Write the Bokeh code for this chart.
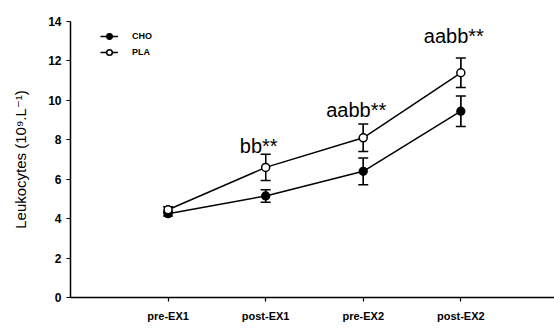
from bokeh.plotting import figure
from bokeh.models import ColumnDataSource, Whisker, FixedTicker, Legend, LegendItem
from bokeh.embed import file_html
from bokeh.resources import INLINE

# Time points of the protocol
categories = ["pre-EX1", "post-EX1", "pre-EX2", "post-EX2"]

# Leukocyte counts (10^9 L^-1), mean and SEM
cho_mean = [4.25, 5.15, 6.4, 9.45]
cho_sem = [0.12, 0.32, 0.68, 0.77]
pla_mean = [4.45, 6.6, 8.1, 11.4]
pla_sem = [0.15, 0.66, 0.7, 0.75]

# Significance annotations above the placebo series
sig_labels = ["bb**", "aabb**", "aabb**"]
sig_at = ["post-EX1", "pre-EX2", "post-EX2"]
sig_y = [7.7, 9.5, 13.25]

FONT = "Liberation Sans"

xpos = [i + 1 for i in range(len(categories))]
cho = ColumnDataSource(dict(x=xpos, y=cho_mean,
                            lo=[m - s for m, s in zip(cho_mean, cho_sem)],
                            hi=[m + s for m, s in zip(cho_mean, cho_sem)]))
pla = ColumnDataSource(dict(x=xpos, y=pla_mean,
                            lo=[m - s for m, s in zip(pla_mean, pla_sem)],
                            hi=[m + s for m, s in zip(pla_mean, pla_sem)]))
sig = ColumnDataSource(dict(x=[categories.index(c) + 1 for c in sig_at],
                            y=sig_y, text=sig_labels))

p = figure(width=554, height=328, x_range=(0, 4.96), y_range=(0, 14),
           output_backend="svg", toolbar_location=None,
           min_border_left=70, min_border_right=0,
           min_border_top=21, min_border_bottom=31)
p.outline_line_color = None
p.xgrid.visible = False
p.ygrid.visible = False
p.background_fill_color = "white"
p.border_fill_color = "white"

# Axes
p.xaxis.ticker = FixedTicker(ticks=xpos)
p.xaxis.major_label_overrides = {x: c for x, c in zip(xpos, categories)}
p.yaxis.ticker = FixedTicker(ticks=list(range(0, 15, 2)))
for ax in (p.xaxis, p.yaxis):
    ax.axis_line_color = "black"
    ax.axis_line_width = 1.5
    ax.major_tick_line_color = "black"
    ax.major_tick_line_width = 1.2
    ax.major_tick_out = 4
    ax.major_tick_in = 0
    ax.minor_tick_line_color = None
    ax.major_label_text_font = FONT
    ax.major_label_text_font_style = "bold"
    ax.major_label_text_color = "black"
p.xaxis.major_label_text_font_size = "11px"
p.yaxis.major_label_text_font_size = "12px"
p.xaxis.major_label_standoff = 8
p.yaxis.major_label_standoff = 5
p.yaxis.axis_label = "Leukocytes (10\u2079.L\u207b\u00b9)"
p.yaxis.axis_label_text_font = "'Liberation Sans', 'DejaVu Sans'"
p.yaxis.axis_label_text_font_style = "normal"
p.yaxis.axis_label_text_font_size = "15px"
p.yaxis.axis_label_text_color = "black"
p.yaxis.axis_label_standoff = 16

# Error bars: stems, then capped whiskers
for src in (cho, pla):
    p.add_layout(Whisker(source=src, base="x", upper="hi", lower="lo",
                         line_color="black", line_width=1.3,
                         upper_head=None, lower_head=None))
    w = Whisker(source=src, base="x", upper="hi", lower="lo",
                line_color="black", line_width=1.3)
    w.upper_head.size = 10
    w.lower_head.size = 10
    w.upper_head.line_width = 1.5
    w.lower_head.line_width = 1.5
    p.add_layout(w)

# Series
cho_line = p.line("x", "y", source=cho, line_color="black", line_width=1.5)
cho_pts = p.scatter("x", "y", source=cho, size=8, marker="circle",
                    fill_color="black", line_color="black", line_width=1.3)
pla_line = p.line("x", "y", source=pla, line_color="black", line_width=1.5)
pla_pts = p.scatter("x", "y", source=pla, size=8, marker="circle",
                    fill_color="white", line_color="black", line_width=1.5)

# Significance labels
p.text("x", "y", text="text", source=sig, text_font={"value": FONT},
       text_font_size="20px", text_align="center",
       text_baseline="alphabetic", text_color="black", x_offset=-7)

legend = Legend(items=[LegendItem(label="CHO", renderers=[cho_line, cho_pts]),
                       LegendItem(label="PLA", renderers=[pla_line, pla_pts])],
                location=(30, 238), orientation="vertical",
                glyph_width=18, glyph_height=14, label_height=14,
                label_standoff=14, spacing=2, padding=0, margin=0,
                label_text_font=FONT, label_text_font_style="bold",
                label_text_font_size="9px", label_text_color="black",
                background_fill_alpha=0, border_line_color=None)
p.add_layout(legend)

open("out.html", "w").write(file_html(p, INLINE))
